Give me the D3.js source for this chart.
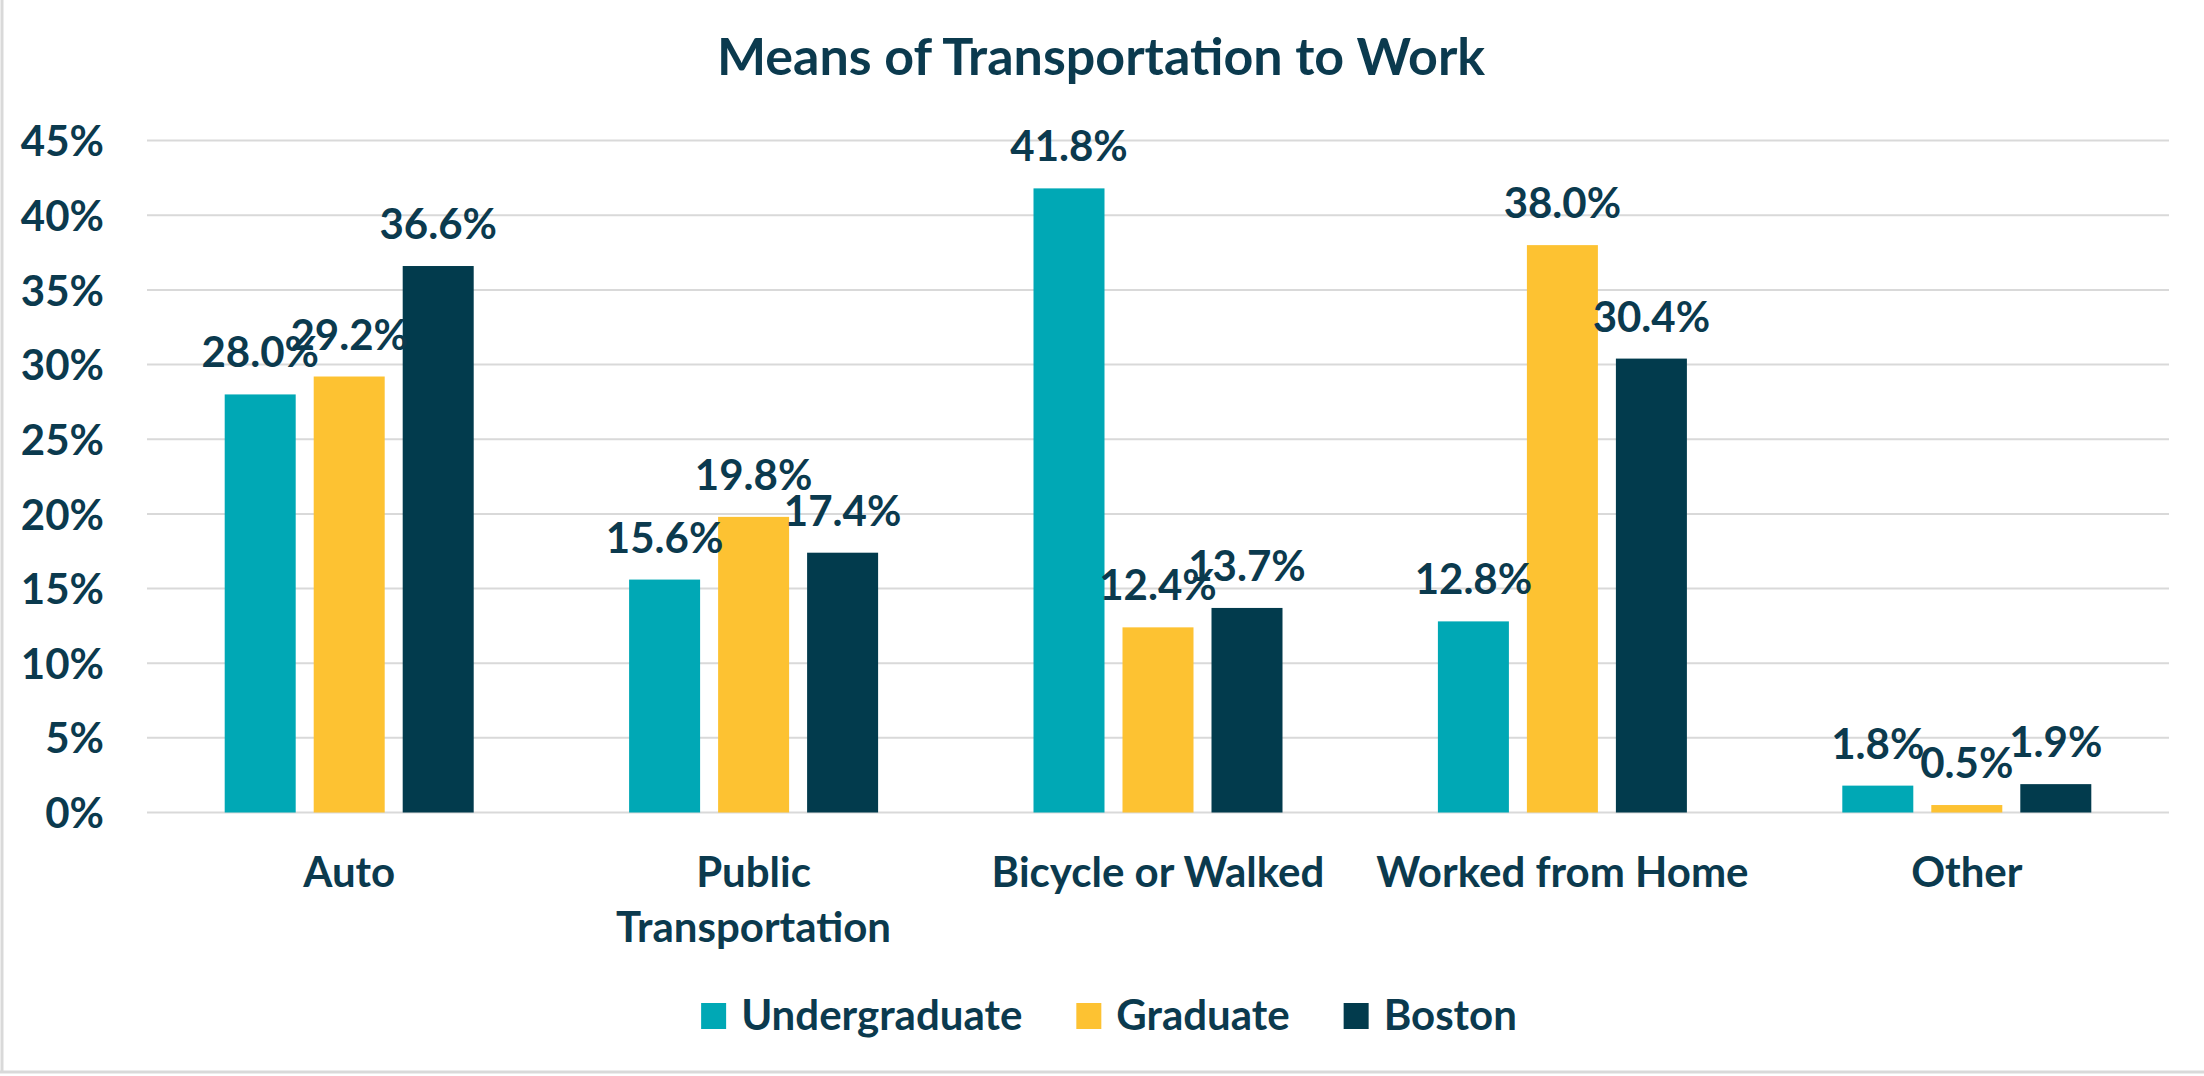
<!DOCTYPE html>
<html>
<head>
<meta charset="utf-8">
<script src="https://cdn.jsdelivr.net/npm/d3@7"></script>
<style>
  body { margin: 0; background: #fff; }
  svg text { font-family: Lato, "Open Sans", sans-serif; font-weight: bold; fill: #0b3a4e; }
</style>
</head>
<body>
<svg id="chart" width="2204" height="1076"></svg>
<script>
// data
var categories = ["Auto", "Public Transportation", "Bicycle or Walked", "Worked from Home", "Other"];
var series = ["Undergraduate", "Graduate", "Boston"];
var undergraduate = [28.0, 15.6, 41.8, 12.8, 1.8];
var graduate = [29.2, 19.8, 12.4, 38.0, 0.5];
var boston = [36.6, 17.4, 13.7, 30.4, 1.9];
var yTicks = [0, 5, 10, 15, 20, 25, 30, 35, 40, 45];
var colors = ["#00a8b5", "#fdc232", "#023b4d"];

var values = [undergraduate, graduate, boston];

var svg = d3.select("#chart");
var plotLeft = 147, plotRight = 2169, plotTop = 140.6, plotBottom = 812.5;

// frame
svg.append("line").attr("x1", 2).attr("x2", 2).attr("y1", 0).attr("y2", 1072)
    .attr("stroke", "#d9d9d9").attr("stroke-width", 3);
svg.append("line").attr("x1", 0).attr("x2", 2204).attr("y1", 1072).attr("y2", 1072)
    .attr("stroke", "#d9d9d9").attr("stroke-width", 3);

var y = d3.scaleLinear().domain([0, 45]).range([plotBottom, plotTop]);
var x0 = d3.scaleBand().domain(categories).range([plotLeft, plotRight]);
var x1 = d3.scaleBand().domain(series).range([0, 249]).paddingInner(18 / 89);

// gridlines
svg.append("g").selectAll("line").data(yTicks).enter().append("line")
    .attr("x1", plotLeft).attr("x2", plotRight)
    .attr("y1", function (d) { return y(d); })
    .attr("y2", function (d) { return y(d); })
    .attr("stroke", "#d9d9d9").attr("stroke-width", 2);

// y axis labels
var yAxis = d3.axisLeft(y).tickValues(yTicks).tickSize(0).tickPadding(0)
    .tickFormat(function (d) { return d + "%"; });
var gy = svg.append("g").attr("transform", "translate(104,0)").call(yAxis);
gy.select(".domain").remove();
gy.attr("font-family", null).attr("font-size", null);
gy.selectAll("text").attr("font-size", 42).attr("fill", null).attr("dy", "0.36em");

// bars
var groups = svg.append("g").selectAll("g").data(categories).enter().append("g")
    .attr("transform", function (d) { return "translate(" + (x0(d) + (x0.bandwidth() - 249) / 2) + ",0)"; });

function rows(c, i) {
    return series.map(function (s, j) { return { s: s, v: values[j][i], j: j }; });
}

groups.selectAll("rect").data(rows).enter().append("rect")
    .attr("x", function (d) { return x1(d.s); })
    .attr("y", function (d) { return y(d.v); })
    .attr("width", x1.bandwidth())
    .attr("height", function (d) { return plotBottom - y(d.v); })
    .attr("fill", function (d) { return colors[d.j]; });

groups.selectAll("text.lbl").data(rows).enter().append("text").attr("class", "lbl")
    .attr("x", function (d) { return x1(d.s) + x1.bandwidth() / 2; })
    .attr("y", function (d) { return y(d.v) - 27; })
    .attr("text-anchor", "middle")
    .attr("font-size", 42)
    .text(function (d) { return d.v.toFixed(1) + "%"; });

// category labels
var catLabels = {
    "Public Transportation": ["Public", "Transportation"]
};
svg.append("g").selectAll("text").data(categories).enter().append("text")
    .attr("x", function (d) { return x0(d) + x0.bandwidth() / 2; })
    .attr("y", 887)
    .attr("text-anchor", "middle")
    .attr("font-size", 42)
    .each(function (d) {
        var lines = catLabels[d] || [d];
        var t = d3.select(this);
        lines.forEach(function (l, k) {
            t.append("tspan").attr("x", x0(d) + x0.bandwidth() / 2).attr("dy", k == 0 ? 0 : 55).text(l);
        });
    });

// title
svg.append("text").attr("x", 1101).attr("y", 75).attr("text-anchor", "middle")
    .attr("font-size", 52).text("Means of Transportation to Work");

// legend
var legend = svg.append("g");
var items = legend.selectAll("g").data(series).enter().append("g");
items.append("rect").attr("width", 25).attr("height", 26).attr("y", 1003)
    .attr("fill", function (d, i) { return colors[i]; });
items.append("text").attr("x", 40).attr("y", 1030).attr("font-size", 42).text(function (d) { return d; });
var pos = 0;
var widths = [];
items.each(function () {
    widths.push(40 + d3.select(this).select("text").node().getComputedTextLength());
});
var total = d3.sum(widths) + 54 * (series.length - 1);
var start = 1109 - total / 2;
items.attr("transform", function (d, i) {
    var tx = start + pos;
    pos += widths[i] + 54;
    return "translate(" + tx + ",0)";
});
</script>
</body>
</html>
